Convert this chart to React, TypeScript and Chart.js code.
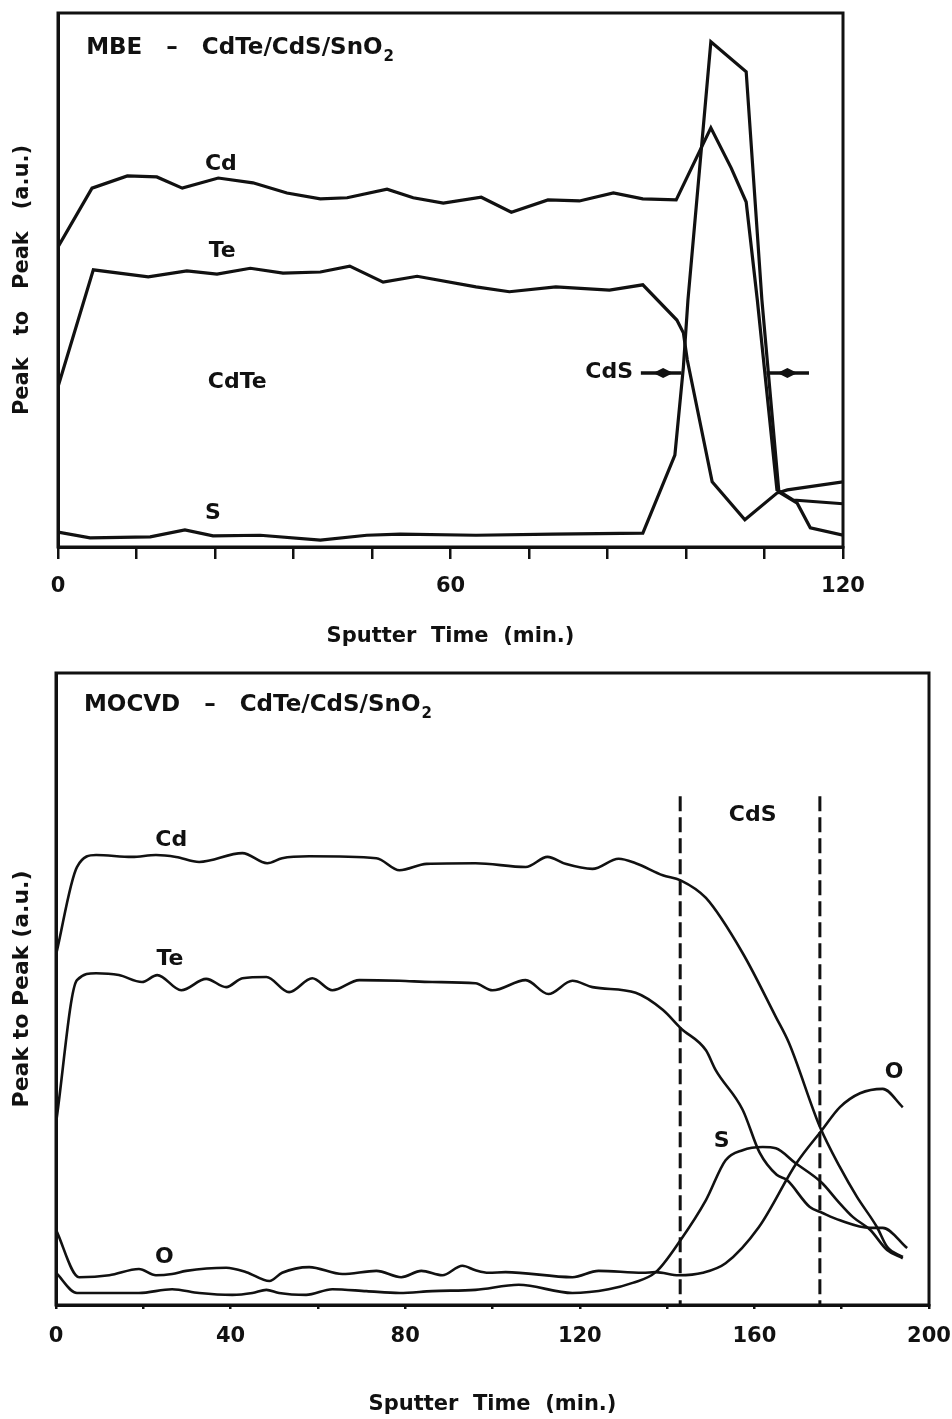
import React, { useEffect, useRef } from "react";
import { Chart, registerables } from "chart.js";

Chart.register(...registerables);

type Pt = [number, number];

// ---------- MBE (top panel): [sputter time (min), peak-to-peak (a.u.)] ----------
const MBE_CD: Pt[] = [
  [0, 56.2], [5.2, 67.2], [10.6, 69.5], [15.1, 69.3], [19.0, 67.2], [24.5, 69.1],
  [29.8, 68.2], [35.0, 66.3], [40.1, 65.2], [44.2, 65.4], [50.3, 67.0], [54.3, 65.4],
  [58.9, 64.4], [64.7, 65.5], [69.3, 62.7], [74.9, 65.0], [79.7, 64.8], [84.9, 66.3],
  [89.4, 65.2], [94.5, 65.0], [99.8, 78.5], [102.9, 71.0], [105.2, 64.6], [106.9, 46.3],
  [109.9, 10.7], [112.4, 8.8], [120, 8.1],
];
const MBE_TE: Pt[] = [
  [0, 30.0], [5.4, 51.9], [13.8, 50.6], [19.7, 51.7], [24.3, 51.1], [29.4, 52.2],
  [34.4, 51.3], [40.1, 51.5], [44.6, 52.6], [49.7, 49.6], [54.9, 50.7], [63.9, 48.7],
  [69.0, 47.8], [76.1, 48.7], [84.3, 48.1], [89.4, 49.1], [94.6, 42.5], [95.6, 40.1],
  [96.2, 35.0], [100.0, 12.2], [105.0, 5.1], [109.9, 10.1], [111.5, 10.7], [120, 12.2],
];
const MBE_S: Pt[] = [
  [0, 2.8], [4.9, 1.7], [14.1, 1.9], [19.4, 3.2], [23.7, 2.1], [30.9, 2.2], [40.1, 1.3],
  [47.2, 2.2], [52.3, 2.4], [63.9, 2.2], [75.7, 2.4], [89.4, 2.6], [94.3, 17.2],
  [95.6, 33.7], [96.3, 46.3], [99.8, 94.6], [105.2, 89.0], [107.6, 46.3], [110.2, 10.3],
  [113.0, 8.2], [115.0, 3.6], [120, 2.2],
];
const MBE_X_LABELS = [0, 60, 120];

// ---------- MOCVD (bottom panel) ----------
const MOCVD_CD: Pt[] = [
  [0, 55.4], [4.8, 69.3], [9.2, 71.2], [17.4, 70.9], [22.9, 71.2], [27.5, 70.9],
  [32.8, 70.1], [42.7, 71.5], [48.4, 69.9], [51.8, 70.7], [58.0, 71.0], [73.4, 70.7],
  [78.7, 68.8], [84.9, 69.8], [96.1, 69.9], [107.6, 69.3], [112.6, 70.9], [116.7, 69.8],
  [122.9, 69.0], [128.9, 70.6], [132.8, 69.9], [139.0, 68.0], [143.1, 67.2], [148.9, 64.4],
  [157.3, 55.7], [164.9, 45.6], [167.9, 41.5], [175.0, 28.2], [179.6, 21.8], [183.5, 17.1],
  [188.1, 12.3], [190.4, 9.2], [194.0, 7.6],
];
const MOCVD_TE: Pt[] = [
  [0, 28.8], [4.8, 51.4], [9.2, 52.5], [14.4, 52.2], [19.7, 51.1], [23.2, 52.2],
  [28.7, 49.8], [34.4, 51.6], [39.0, 50.3], [42.7, 51.7], [48.2, 51.9], [53.4, 49.5],
  [58.7, 51.7], [63.3, 49.8], [69.5, 51.4], [78.7, 51.3], [86.2, 51.1], [96.1, 50.9],
  [100.0, 49.8], [107.6, 51.4], [112.8, 49.2], [118.3, 51.3], [122.9, 50.3], [132.8, 49.4],
  [139.0, 46.7], [143.1, 43.8], [148.9, 40.3], [151.1, 37.2], [157.3, 30.9], [161.2, 24.1],
  [165.1, 20.6], [167.4, 19.8], [172.7, 15.5], [175.5, 14.6], [179.6, 13.4], [186.5, 12.2],
  [189.4, 12.2], [195.0, 9.0],
];
const MOCVD_O: Pt[] = [
  [0, 11.9], [5.3, 4.4], [12.2, 4.7], [19.0, 5.7], [22.9, 4.7], [26.6, 4.9], [29.8, 5.4],
  [39.0, 5.9], [43.6, 5.2], [48.9, 3.8], [51.8, 5.1], [58.0, 6.0], [65.6, 4.9], [73.4, 5.4],
  [79.1, 4.4], [83.7, 5.4], [88.5, 4.7], [93.1, 6.2], [96.1, 5.5], [99.1, 5.1], [103.0, 5.2],
  [118.3, 4.4], [124.3, 5.4], [134.4, 5.1], [137.4, 5.2], [142.7, 4.7], [148.2, 5.1],
  [153.4, 6.6], [161.0, 12.3], [169.7, 22.5], [175.5, 27.7], [179.6, 31.3], [184.2, 33.5],
  [189.4, 34.2], [194.0, 31.3],
];
const MOCVD_S: Pt[] = [
  [0, 5.1], [4.8, 1.9], [19.0, 1.9], [26.6, 2.5], [32.8, 1.9], [40.4, 1.6], [45.0, 1.9],
  [48.2, 2.4], [51.1, 1.9], [57.3, 1.6], [63.3, 2.5], [71.1, 2.2], [78.7, 1.9], [86.2, 2.2],
  [96.1, 2.4], [106.0, 3.2], [118.3, 1.9], [126.6, 2.5], [132.1, 3.5], [137.4, 5.2],
  [143.1, 10.3], [148.9, 16.6], [153.4, 22.9], [157.3, 24.5], [161.9, 25.0], [164.9, 24.8],
  [169.3, 22.5], [175.5, 19.3], [178.9, 16.6], [182.6, 13.9], [186.5, 11.9], [190.4, 8.7],
  [194.0, 7.4],
];
const MOCVD_CDS_BOUNDS = [143, 175];
const MOCVD_CDS_TOP = 80.5;
const MOCVD_X_LABELS = [0, 40, 80, 120, 160, 200];

// ---------- annotations (data units) ----------
type Label = { text: string; t: number; v: number; align?: CanvasTextAlign };
type Arrow = { from: number; to: number; head: number; v: number };

const MBE_TITLE = { main: "MBE   –   CdTe/CdS/SnO", sub: "2", t: 4.3, v: 93.4 };
const MBE_LABELS: Label[] = [
  { text: "Cd", t: 24.9, v: 71.7 },
  { text: "Te", t: 25.1, v: 55.4 },
  { text: "CdTe", t: 27.4, v: 30.9 },
  { text: "S", t: 23.7, v: 6.4 },
  { text: "CdS", t: 87.9, v: 32.8, align: "right" },
];
const MBE_ARROWS: Arrow[] = [
  { from: 89.1, to: 95.3, head: 92.5, v: 32.6 },
  { from: 108.3, to: 114.8, head: 111.5, v: 32.6 },
];

const MOCVD_TITLE = { main: "MOCVD   –   CdTe/CdS/SnO", sub: "2", t: 6.4, v: 94.9 };
const MOCVD_LABELS: Label[] = [
  { text: "Cd", t: 26.4, v: 73.6 },
  { text: "Te", t: 26.1, v: 54.7 },
  { text: "O", t: 24.8, v: 7.6 },
  { text: "CdS", t: 159.6, v: 77.5 },
  { text: "S", t: 152.5, v: 25.9 },
  { text: "O", t: 192.0, v: 36.9 },
];

const FONT = "'DejaVu Sans', 'Liberation Sans', Arial, sans-serif";
const INK = "#111111";

const toXY = (pts: Pt[]) => pts.map(([x, y]) => ({ x, y }));

function annotationPlugin(
  id: string,
  title: { main: string; sub: string; t: number; v: number },
  labels: Label[],
  arrows: Arrow[]
) {
  return {
    id,
    afterDatasetsDraw(chart: any) {
      const { ctx, chartArea: a } = chart;
      const xs = chart.scales.x;
      const ys = chart.scales.y;
      ctx.save();
      ctx.strokeStyle = INK;
      ctx.lineWidth = 3;
      ctx.strokeRect(a.left, a.top, a.right - a.left, a.bottom - a.top);

      ctx.fillStyle = INK;
      ctx.textBaseline = "middle";
      const tx = xs.getPixelForValue(title.t);
      const ty = ys.getPixelForValue(title.v);
      ctx.font = `bold 23px ${FONT}`;
      ctx.textAlign = "left";
      ctx.fillText(title.main, tx, ty);
      const w = ctx.measureText(title.main).width;
      ctx.font = `bold 15px ${FONT}`;
      ctx.fillText(title.sub, tx + w + 1, ty + 9);

      ctx.font = `bold 22px ${FONT}`;
      for (const l of labels) {
        ctx.textAlign = l.align ?? "center";
        ctx.fillText(l.text, xs.getPixelForValue(l.t), ys.getPixelForValue(l.v));
      }

      for (const ar of arrows) {
        const py = ys.getPixelForValue(ar.v);
        ctx.lineWidth = 3.5;
        ctx.beginPath();
        ctx.moveTo(xs.getPixelForValue(ar.from), py);
        ctx.lineTo(xs.getPixelForValue(ar.to), py);
        ctx.stroke();
        const hx = xs.getPixelForValue(ar.head);
        ctx.beginPath();
        ctx.moveTo(hx - 10, py);
        ctx.lineTo(hx, py - 5);
        ctx.lineTo(hx + 10, py);
        ctx.lineTo(hx, py + 5);
        ctx.closePath();
        ctx.fill();
      }
      ctx.restore();
    },
  };
}

function lineDs(pts: Pt[], width: number, smooth: boolean) {
  return {
    data: toXY(pts),
    borderColor: INK,
    borderWidth: width,
    pointRadius: 0,
    fill: false,
    tension: smooth ? 0.4 : 0,
    cubicInterpolationMode: smooth ? "monotone" : "default",
  };
}

function dashDs(t: number, top: number) {
  return {
    data: [
      { x: t, y: top },
      { x: t, y: 0 },
    ],
    borderColor: INK,
    borderWidth: 3,
    borderDash: [15, 6],
    pointRadius: 0,
    fill: false,
    tension: 0,
  };
}

function axisConfig(opts: {
  max: number;
  step: number;
  labels: number[];
  tickLen: number;
  labelLineHeight: number;
  height: number;
  titlePadBottom: number;
  yWidth: number;
  yTitle: string;
  yTitleSize: number;
  yTitlePad: number;
}) {
  const tickFont = { family: FONT, size: 21, weight: "bold" as const, lineHeight: `${opts.labelLineHeight}px` };
  return {
    x: {
      type: "linear",
      min: 0,
      max: opts.max,
      position: "bottom",
      afterFit: (s: any) => {
        s.height = opts.height;
      },
      ticks: {
        stepSize: opts.step,
        autoSkip: false,
        maxRotation: 0,
        padding: 0,
        color: INK,
        font: tickFont,
        callback: (v: any) =>
          opts.labels.some((l) => Math.abs(l - Number(v)) < 1e-6) ? String(Math.round(Number(v))) : "",
      },
      grid: {
        drawOnChartArea: false,
        drawTicks: true,
        tickLength: opts.tickLen,
        color: INK,
        lineWidth: 2.5,
      },
      border: { display: true, color: INK, width: 3 },
      title: {
        display: true,
        text: "Sputter  Time  (min.)",
        color: INK,
        font: { family: FONT, size: 21, weight: "bold" },
        padding: { top: 0, bottom: opts.titlePadBottom },
      },
    },
    y: {
      type: "linear",
      min: 0,
      max: 100,
      afterFit: (s: any) => {
        s.width = opts.yWidth;
      },
      ticks: { display: false },
      grid: { display: false, drawTicks: false },
      border: { display: true, color: INK, width: 3 },
      title: {
        display: true,
        text: opts.yTitle,
        color: INK,
        font: { family: FONT, size: opts.yTitleSize, weight: "bold" },
        padding: { top: opts.yTitlePad, bottom: 0 },
      },
    },
  };
}

function mbeConfig(): any {
  return {
    type: "line",
    data: {
      datasets: [lineDs(MBE_CD, 3.2, false), lineDs(MBE_TE, 3.2, false), lineDs(MBE_S, 3.2, false)],
    },
    options: {
      animation: false,
      responsive: false,
      devicePixelRatio: 1,
      layout: { padding: { left: 0, right: 109, top: 13, bottom: 0 } },
      plugins: { legend: { display: false }, tooltip: { enabled: false }, title: { display: false } },
      scales: axisConfig({
        max: 120,
        step: 12,
        labels: MBE_X_LABELS,
        tickLen: 12,
        labelLineHeight: 56,
        height: 113,
        titlePadBottom: 10.4,
        yWidth: 58,
        yTitle: "Peak   to   Peak   (a.u.)",
        yTitleSize: 21,
        yTitlePad: 10,
      }),
    },
    plugins: [annotationPlugin("mbeAnn", MBE_TITLE, MBE_LABELS, MBE_ARROWS)],
  };
}

function mocvdConfig(): any {
  return {
    type: "line",
    data: {
      datasets: [
        lineDs(MOCVD_CD, 2.6, true),
        lineDs(MOCVD_TE, 2.6, true),
        lineDs(MOCVD_O, 2.6, true),
        lineDs(MOCVD_S, 2.6, true),
        ...MOCVD_CDS_BOUNDS.map((t) => dashDs(t, MOCVD_CDS_TOP)),
      ],
    },
    options: {
      animation: false,
      responsive: false,
      devicePixelRatio: 1,
      layout: { padding: { left: 0, right: 23, top: 13, bottom: 0 } },
      plugins: { legend: { display: false }, tooltip: { enabled: false }, title: { display: false } },
      scales: axisConfig({
        max: 200,
        step: 20,
        labels: MOCVD_X_LABELS,
        tickLen: 4,
        labelLineHeight: 56,
        height: 114,
        titlePadBottom: 1.4,
        yWidth: 56,
        yTitle: "Peak to Peak (a.u.)",
        yTitleSize: 22,
        yTitlePad: 9,
      }),
    },
    plugins: [annotationPlugin("mocvdAnn", MOCVD_TITLE, MOCVD_LABELS, [])],
  };
}

function ChartCanvas({ make, width, height }: { make: () => any; width: number; height: number }) {
  const ref = useRef<HTMLCanvasElement>(null);
  useEffect(() => {
    if (!ref.current) return;
    const chart = new Chart(ref.current, make());
    return () => chart.destroy();
  }, [make]);
  return <canvas ref={ref} width={width} height={height} style={{ display: "block", width, height }} />;
}

export default function App() {
  return (
    <div style={{ position: "absolute", left: 0, top: 0, width: 952, height: 1419, background: "#fff" }}>
      <ChartCanvas make={mbeConfig} width={952} height={660} />
      <ChartCanvas make={mocvdConfig} width={952} height={759} />
    </div>
  );
}
